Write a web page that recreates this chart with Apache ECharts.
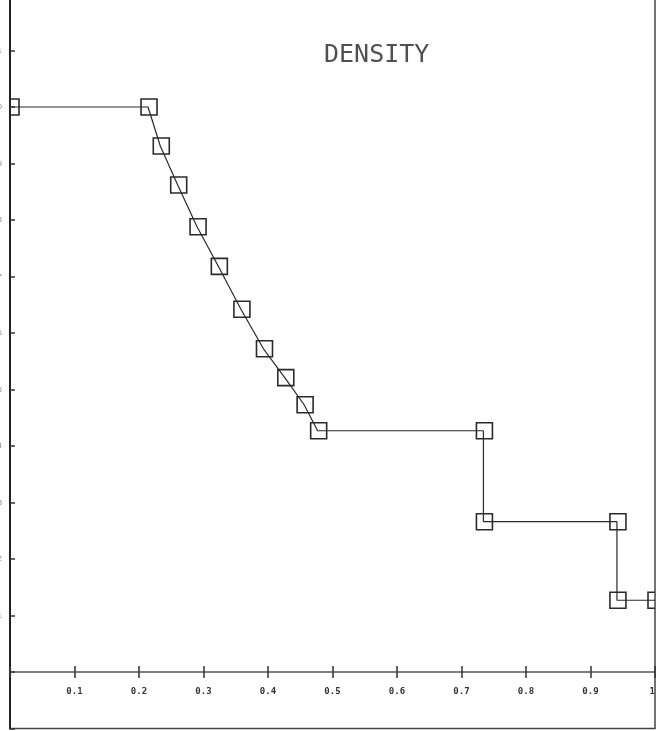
<!DOCTYPE html>
<html>
<head>
<meta charset="utf-8">
<style>
  html, body { margin: 0; padding: 0; background: #ffffff; }
  #chart { width: 657px; height: 731px; }
</style>
<script src="https://cdn.jsdelivr.net/npm/echarts@6/dist/echarts.min.js"></script>
</head>
<body>
<div id="chart"></div>
<script>
// Step-like density profile: x position (fraction) vs density (axis units)
const xValues = [0.000, 0.214, 0.233, 0.260, 0.290, 0.323, 0.358, 0.393, 0.426, 0.456, 0.477, 0.734, 0.734, 0.941, 0.941, 1.000];
const densityValues = [10.00, 10.00, 9.31, 8.62, 7.88, 7.18, 6.42, 5.72, 5.21, 4.73, 4.27, 4.27, 2.66, 2.66, 1.27, 1.27];
const xTickLabels = ['0.1', '0.2', '0.3', '0.4', '0.5', '0.6', '0.7', '0.8', '0.9', '1.'];
const titleText = 'DENSITY';

const points = xValues.map((x, i) => [x, densityValues[i]]);
const ink = '#2a2a2a';

// Density scale: one unit per tick, zero line sits one unit above the frame bottom
const yMin = -1;
const yMax = 12;
const gridTop = -6;
const gridBottom = 2.5;
const chartHeight = 731;
const unitPx = (chartHeight - gridTop - gridBottom) / (yMax - yMin);
const zeroOffset = -(0 - yMin) * unitPx;

const chart = echarts.init(document.getElementById('chart'), null, { renderer: 'canvas' });

const xAxisBase = {
  type: 'value',
  min: 0,
  max: 1,
  interval: 0.1,
  position: 'bottom',
  offset: zeroOffset,
  splitLine: { show: false }
};
const tickLabel = v => {
  const k = Math.round(v * 10);
  return k >= 1 && k <= 10 ? xTickLabels[k - 1] : '';
};

chart.setOption({
  animation: false,
  backgroundColor: '#ffffff',
  title: {
    text: titleText,
    left: 319,
    top: 38,
    textStyle: { fontFamily: 'DejaVu Sans Mono', fontWeight: 'normal', fontSize: 25, color: '#505050' }
  },
  grid: {
    left: 10, right: 2, top: gridTop, bottom: gridBottom,
    outerBoundsMode: 'none',
    containLabel: false,
    show: true, borderColor: '#444', borderWidth: 1.5, backgroundColor: 'transparent'
  },
  xAxis: [
    Object.assign({}, xAxisBase, {
      axisLine: { show: true, onZero: false, lineStyle: { color: '#555', width: 1.5 } },
      axisTick: { show: true, inside: false, length: 6, lineStyle: { color: '#333', width: 1.5 } },
      axisLabel: {
        show: true, margin: 15,
        fontFamily: 'DejaVu Sans Mono', fontWeight: 'bold', fontSize: 9, color: '#333',
        formatter: tickLabel
      }
    }),
    Object.assign({}, xAxisBase, {
      axisLine: { show: false, onZero: false },
      axisTick: { show: true, inside: true, length: 6, lineStyle: { color: '#333', width: 1.5 } },
      axisLabel: { show: false }
    })
  ],
  yAxis: {
    type: 'value',
    min: yMin,
    max: yMax,
    interval: 1,
    position: 'left',
    splitLine: { show: false },
    axisLine: { show: true, onZero: false, lineStyle: { color: '#222', width: 2 } },
    axisTick: { show: true, inside: true, length: 5, lineStyle: { color: '#333', width: 1.5 } },
    axisLabel: { show: true, margin: 8, fontSize: 8, color: '#888', formatter: v => (v > 0 ? String(v) : '') }
  },
  series: [
    {
      type: 'line',
      xAxisIndex: 0,
      data: points,
      symbol: 'none',
      clip: true,
      lineStyle: { color: ink, width: 1.2 },
      z: 2
    },
    {
      type: 'custom',
      xAxisIndex: 0,
      data: points,
      clip: true,
      z: 3,
      renderItem: (params, api) => {
        const c = api.coord([api.value(0), api.value(1)]);
        const s = 16;
        return {
          type: 'rect',
          shape: { x: c[0] - s / 2 + 1, y: c[1] - s / 2, width: s, height: s },
          style: { fill: 'none', stroke: ink, lineWidth: 1.6 }
        };
      }
    }
  ]
});
</script>
</body>
</html>
